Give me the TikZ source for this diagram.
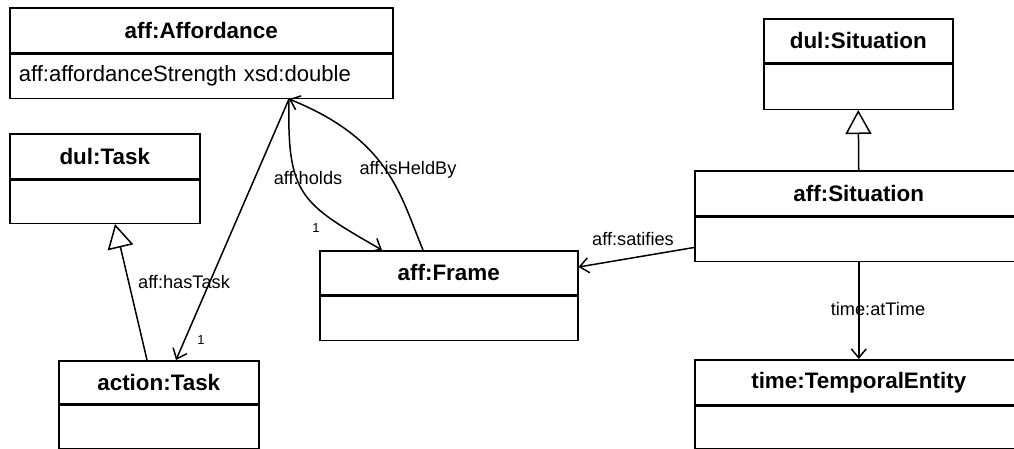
\documentclass[tikz,border=0pt]{standalone}
\usepackage{fontspec}
\setmainfont{Liberation Sans}
\usetikzlibrary{arrows.meta,calc}

\begin{document}
\begin{tikzpicture}[x=1pt,y=-1pt,line width=1.5pt,
  hdr/.style={draw,rectangle,anchor=north west,minimum height=45pt,inner sep=0pt,
    font=\fontsize{22.4}{26}\selectfont\bfseries},
  bdy/.style={draw,rectangle,anchor=north west,minimum height=44pt,inner sep=0pt},
  attr/.style={bdy,align=left,inner xsep=9pt,font=\fontsize{22.1}{26}\selectfont},
  assoc/.style={-{Straight Barb[length=9pt,width=15pt,line width=1.5pt]}},
  gen/.style={-{Triangle[open,length=24pt,width=26pt,fill=white,line width=1.5pt]}},
  lbl/.style={font=\fontsize{18.2}{21}\selectfont,inner sep=0pt},
  mult/.style={font=\fontsize{13}{15}\selectfont,inner sep=0pt}]

\useasboundingbox (0,0) rectangle (1014,448);
\clip (0,0) rectangle (1014,448);

% classes
\node[hdr,minimum width=383pt] (affh) at (9,7) {aff:Affordance};
\node[attr,text width=365pt] (affb) at (affh.south west) {aff:affordanceStrength xsd:double};

\node[hdr,minimum width=190pt] (dtaskh) at (9,133) {dul:Task};
\node[bdy,minimum width=190pt,minimum height=43pt] (dtaskb) at (dtaskh.south west) {};

\node[hdr,minimum width=200pt,minimum height=43pt] (ataskh) at (58,360) {action:Task};
\node[bdy,minimum width=200pt,minimum height=43.5pt] (ataskb) at (ataskh.south west) {};

\node[hdr,minimum width=258pt,minimum height=44pt] (frameh) at (319,250) {aff:Frame};
\node[bdy,minimum width=258pt] (frameb) at (frameh.south west) {};

\node[hdr,minimum width=189pt,minimum height=44pt] (dsith) at (763,18) {dul:Situation};
\node[bdy,minimum width=189pt,minimum height=45pt] (dsitb) at (dsith.south west) {};

\node[hdr,minimum width=328pt] (asith) at (694,170) {aff:Situation};
\node[bdy,minimum width=328pt] (asitb) at (asith.south west) {};

\node[hdr,minimum width=328pt] (timeh) at (694,359) {time:TemporalEntity};
\node[bdy,minimum width=328pt,minimum height=42.5pt] (timeb) at (timeh.south west) {};

% generalisations
\draw[gen] ([xshift=89pt]ataskh.north west) -- ([xshift=106pt]dtaskb.south west);
\draw[gen] (asith.north) -- (dsitb.south);

% associations
\draw[assoc] ([xshift=280pt]affb.south west) -- ([xshift=118pt]ataskh.north west);
\draw[assoc] ([xshift=280pt]affb.south west)
  .. controls (287,195) and (300,203) .. ([xshift=63pt]frameh.north west);
\draw[assoc] ([xshift=104pt]frameh.north west)
  .. controls (400,195) and (390,140) .. ([xshift=280pt]affb.south west);
\draw[assoc] ([yshift=-31pt]asitb.north west) -- ([yshift=-17pt]frameh.north east);
\draw[assoc] (asitb.south) -- (timeh.north);

% association labels
\node[lbl] (lholds) at (308,178) {aff:holds};
\node[mult] (mholds) at (316,228) {1};
\node[lbl] (lheld) at (408,170) {aff:isHeldBy};
\node[lbl] (ltask) at (184,282) {aff:hasTask};
\node[mult] (mtask) at (201,340) {1};
\node[lbl] (lsat) at (633,239) {aff:satifies};
\node[lbl] (ltime) at (878,309) {time:atTime};
\end{tikzpicture}
\end{document}
